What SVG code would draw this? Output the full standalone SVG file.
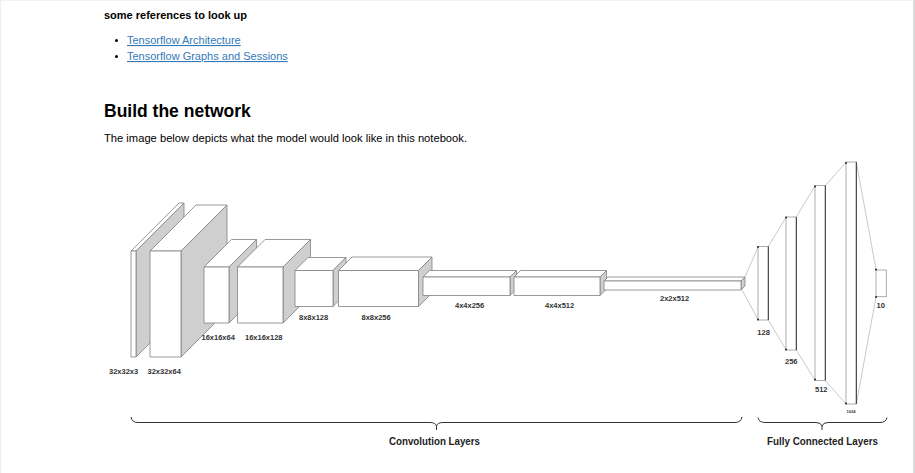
<svg xmlns="http://www.w3.org/2000/svg" width="915" height="473" viewBox="0 0 915 473">
<style>
.pg{font-family:"Liberation Sans",Arial,sans-serif;fill:#000}
.lnk{font-family:"Liberation Sans",Arial,sans-serif;font-size:11px;fill:#337ab7;text-decoration:underline}
.f{fill:#fff;stroke:#808080;stroke-width:0.8;stroke-linejoin:round}
.s{fill:#cfcfcf;stroke:#808080;stroke-width:0.8;stroke-linejoin:round}
.lbl{font-family:"Liberation Sans",Arial,sans-serif;font-size:7.5px;font-weight:bold;fill:#333}
.tiny{font-size:4px}
.fc{fill:#fff;stroke:#999;stroke-width:0.8}
.fcr{stroke:#333;stroke-width:1}
.cn{stroke:#bbb;stroke-width:0.8;fill:none}
.dot{fill:#222}
.br{fill:none;stroke:#333;stroke-width:1}
.bt{font-family:"Liberation Sans",Arial,sans-serif;font-size:10px;font-weight:bold;fill:#222}
</style>
<rect x="0" y="0" width="915" height="473" fill="#fff"/>
<rect x="913" y="0" width="2" height="473" fill="#dcdcdc"/>
<line x1="0.5" y1="0" x2="0.5" y2="473" stroke="#eee"/>
<line x1="0" y1="0.5" x2="913" y2="0.5" stroke="#f2f2f2"/>

<g id="header">
<text class="pg" x="104" y="19" font-size="11" font-weight="bold">some references to look up</text>
<circle cx="116.5" cy="40.5" r="1.5" fill="#000"/>
<circle cx="116.5" cy="56.5" r="1.5" fill="#000"/>
<text class="lnk" x="127" y="44">Tensorflow Architecture</text>
<text class="lnk" x="127" y="60">Tensorflow Graphs and Sessions</text>
<text class="pg" x="104" y="117" font-size="17.5" font-weight="bold">Build the network</text>
<text class="pg" x="104" y="142" font-size="11" textLength="363" lengthAdjust="spacingAndGlyphs">The image below depicts what the model would look like in this notebook.</text>
</g>

<g id="conv1">
<polygon class="f" points="131,251 136,251 184,203 179,203"/>
<polygon class="s" points="136,251 184,203 184,309 136,357"/>
<rect class="f" x="131" y="251" width="5" height="106"/>
<text class="lbl" x="109" y="374">32x32x3</text>
</g>
<g id="conv2">
<polygon class="f" points="150,251 181,251 227,205 196,205"/>
<polygon class="s" points="181,251 227,205 227,311 181,357"/>
<rect class="f" x="150" y="251" width="31" height="106"/>
<text class="lbl" x="147.5" y="374">32x32x64</text>
</g>
<g id="conv3">
<polygon class="f" points="204,267 229,267 256.5,239.5 231.5,239.5"/>
<polygon class="s" points="229,267 256.5,239.5 256.5,295.5 229,323"/>
<rect class="f" x="204" y="267" width="25" height="56"/>
<text class="lbl" x="201.5" y="340">16x16x64</text>
</g>
<g id="conv4">
<polygon class="f" points="237.5,267 283,267 310.5,239.5 265,239.5"/>
<polygon class="s" points="283,267 310.5,239.5 310.5,295.5 283,323"/>
<rect class="f" x="237.5" y="267" width="45.5" height="56"/>
<text class="lbl" x="245" y="340">16x16x128</text>
</g>
<g id="conv5">
<polygon class="f" points="295,270.5 333,270.5 346,257.5 308,257.5"/>
<polygon class="s" points="333,270.5 346,257.5 346,293.5 333,306.5"/>
<rect class="f" x="295" y="270.5" width="38" height="36"/>
<text class="lbl" x="299" y="320">8x8x128</text>
</g>
<g id="conv6">
<polygon class="f" points="338.5,270.5 418.5,270.5 432,257 352,257"/>
<polygon class="s" points="418.5,270.5 432,257 432,293 418.5,306.5"/>
<rect class="f" x="338.5" y="270.5" width="80" height="36"/>
<text class="lbl" x="361.5" y="320">8x8x256</text>
</g>
<g id="conv7">
<polygon class="f" points="423,277 510,277 516.5,270.5 429.5,270.5"/>
<polygon class="s" points="510,277 516.5,270.5 516.5,289 510,295.5"/>
<rect class="f" x="423" y="277" width="87" height="18.5"/>
<text class="lbl" x="455" y="307.5">4x4x256</text>
</g>
<g id="conv8">
<polygon class="f" points="514,277 600,277 606.5,270.5 520.5,270.5"/>
<polygon class="s" points="600,277 606.5,270.5 606.5,289 600,295.5"/>
<rect class="f" x="514" y="277" width="86" height="18.5"/>
<text class="lbl" x="545" y="307.5">4x4x512</text>
</g>
<g id="conv9">
<polygon class="f" points="604,281 741,281 745,277 608,277"/>
<polygon class="s" points="741,281 745,277 745,286 741,290"/>
<rect class="f" x="604" y="281" width="137" height="9"/>
<text class="lbl" x="660" y="300.5">2x2x512</text>
</g>

<g id="connectors">
<line class="cn" x1="745" y1="277" x2="758" y2="247"/>
<line class="cn" x1="742" y1="290" x2="758" y2="319.5"/>
<line class="cn" x1="768.3" y1="246.5" x2="786" y2="217.5"/>
<line class="cn" x1="768.3" y1="320" x2="786" y2="349.5"/>
<line class="cn" x1="796.3" y1="217" x2="815" y2="186"/>
<line class="cn" x1="796.3" y1="350" x2="815" y2="380"/>
<line class="cn" x1="825.3" y1="185.5" x2="846" y2="162.5"/>
<line class="cn" x1="825.3" y1="380.5" x2="846" y2="404"/>
<line class="cn" x1="856.3" y1="162" x2="876" y2="269.5"/>
<line class="cn" x1="856.3" y1="404" x2="876" y2="297"/>
</g>

<g id="fc1">
<rect class="fc" x="758" y="246.5" width="10.3" height="73.5"/>
<line class="fcr" x1="768.3" y1="246.5" x2="768.3" y2="320"/>
<circle class="dot" cx="758" cy="247" r="1"/>
<circle class="dot" cx="758" cy="319.5" r="1"/>
<text class="lbl" x="757.3" y="334.5">128</text>
</g>
<g id="fc2">
<rect class="fc" x="786" y="217" width="10.3" height="133"/>
<line class="fcr" x1="796.3" y1="217" x2="796.3" y2="350"/>
<circle class="dot" cx="786" cy="217.5" r="1"/>
<circle class="dot" cx="786" cy="349.5" r="1"/>
<text class="lbl" x="785" y="363.5">256</text>
</g>
<g id="fc3">
<rect class="fc" x="815" y="185.5" width="10.3" height="195"/>
<line class="fcr" x1="825.3" y1="185.5" x2="825.3" y2="380.5"/>
<circle class="dot" cx="815" cy="186.5" r="1"/>
<circle class="dot" cx="815" cy="379.5" r="1"/>
<text class="lbl" x="815" y="392">512</text>
</g>
<g id="fc4">
<rect class="fc" x="846" y="162" width="10.3" height="242"/>
<line class="fcr" x1="856.3" y1="162" x2="856.3" y2="404"/>
<circle class="dot" cx="846" cy="163" r="1"/>
<circle class="dot" cx="846" cy="403.5" r="1"/>
<text class="lbl tiny" x="846.5" y="413">1024</text>
</g>
<g id="fc5">
<rect class="fc" x="876" y="270" width="10.3" height="26.7"/>
<circle class="dot" cx="876" cy="269.5" r="1"/>
<circle class="dot" cx="876" cy="297" r="1"/>
<text class="lbl" x="876.5" y="308">10</text>
</g>

<g id="brace-conv">
<path class="br" d="M131,417 Q132,422.5 138,422.5 L430,422.5 Q435.5,422.5 436.5,426 L436.5,430 M436.5,426 Q437.5,422.5 443,422.5 L735,422.5 Q741,422.5 742,417"/>
<text class="bt" x="434.5" y="445" text-anchor="middle" textLength="91" lengthAdjust="spacingAndGlyphs">Convolution Layers</text>
</g>
<g id="brace-fc">
<path class="br" d="M758,417.5 Q759,422.5 765,422.5 L816,422.5 Q821,422.5 822,426 L822,430 M822,426 Q823,422.5 828,422.5 L880,422.5 Q886,422.5 887,417.5"/>
<text class="bt" x="822.5" y="444.5" text-anchor="middle" textLength="111" lengthAdjust="spacingAndGlyphs">Fully Connected Layers</text>
</g>
</svg>
